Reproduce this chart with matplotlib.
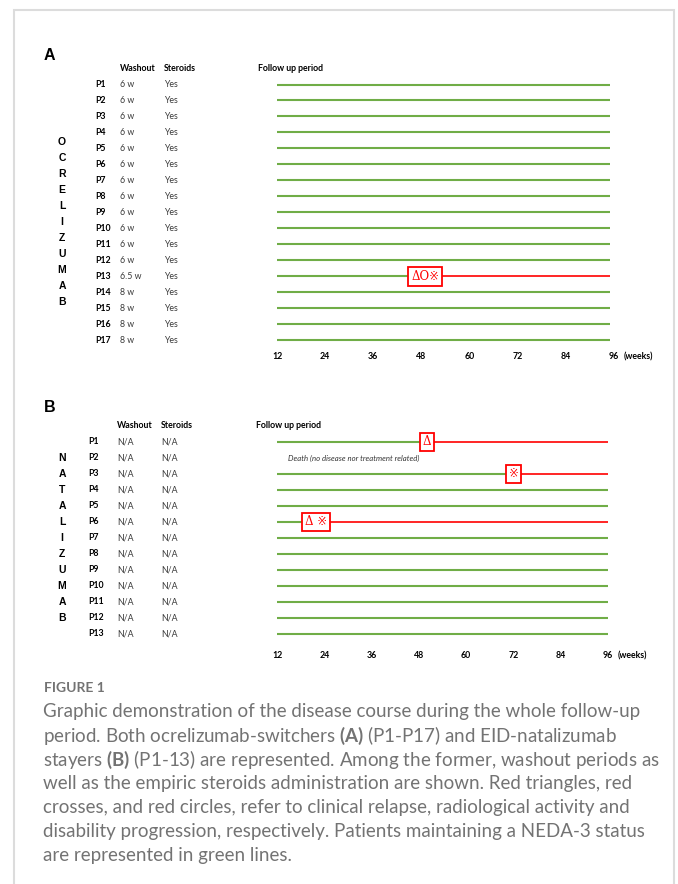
import matplotlib
matplotlib.use("Agg")
import matplotlib.pyplot as plt
from matplotlib.transforms import blended_transform_factory
from matplotlib.patches import Rectangle

plt.rcParams['mathtext.fontset'] = 'custom'
plt.rcParams['mathtext.rm'] = 'Lato'
plt.rcParams['mathtext.bf'] = 'Lato:bold'

# ---------------- data ----------------
weeks_ticks = [12, 24, 36, 48, 60, 72, 84, 96]
fu_start = 12
fu_end_A = 95
fu_end_B = 96

ocr_patients = ["P1", "P2", "P3", "P4", "P5", "P6", "P7", "P8", "P9", "P10",
                "P11", "P12", "P13", "P14", "P15", "P16", "P17"]
ocr_washout = ["6 w", "6 w", "6 w", "6 w", "6 w", "6 w", "6 w", "6 w", "6 w", "6 w",
               "6 w", "6 w", "6.5 w", "8 w", "8 w", "8 w", "8 w"]
ocr_steroids = ["Yes"] * 17
ocr_event_week = [None, None, None, None, None, None, None, None, None, None,
                  None, None, 49, None, None, None, None]
ocr_event_label = [None, None, None, None, None, None, None, None, None, None,
                   None, None, "\u0394O\u203b", None, None, None, None]

nat_patients = ["P1", "P2", "P3", "P4", "P5", "P6", "P7", "P8", "P9", "P10",
                "P11", "P12", "P13"]
nat_washout = ["N/A"] * 13
nat_steroids = ["N/A"] * 13
nat_event_week = [50, None, 72, None, None, 22, None, None, None, None, None, None, None]
nat_event_label = ["\u0394", None, "\u203b", None, None, "\u0394 \u203b", None, None,
                   None, None, None, None, None]
nat_deceased = [False, True, False, False, False, False, False, False, False, False,
                False, False, False]
death_note = "Death (no disease nor treatment related)"

ocr_word = "OCRELIZUMAB"
nat_word = "NATALIZUMAB"

GREEN = "#70AD47"
RED = "#FF0000"

W, H = 678, 884
fig = plt.figure(figsize=(W / 100, H / 100), dpi=100)

def fx(px):
    return px / W

def fy(py):
    return 1 - py / H

TABLE_FONT = "Lato"


def make_panel(left, right, top, bottom, row1_px, spacing, nrows):
    ax = fig.add_axes([fx(left), fy(bottom), fx(right - left), (bottom - top) / H])
    ax.set_xlim(12, 96)
    ytop = 1 - (row1_px - top) / spacing
    ybot = 1 + (bottom - row1_px) / spacing
    ax.set_ylim(ybot, ytop)
    for s in ax.spines.values():
        s.set_visible(False)
    ax.set_yticks([])
    ax.set_xticks(weeks_ticks)
    ax.set_xticklabels([str(t) for t in weeks_ticks], fontweight="bold",
                       fontsize=6.3, family=TABLE_FONT)
    ax.tick_params(axis="x", length=0, pad=1.5)
    ax.annotate("(weeks)", xy=(96, 0), xycoords=ax.get_xaxis_transform(),
                xytext=(7, -1.5), textcoords="offset points", ha="left", va="top",
                fontsize=6.3, fontweight="bold", family=TABLE_FONT)
    ax.patch.set_alpha(0)
    return ax


def draw_rows(ax, end_week, event_week, event_label, deceased=None):
    for i, (ew, lab) in enumerate(zip(event_week, event_label)):
        row = i + 1
        if deceased is not None and deceased[i]:
            continue
        if ew is None:
            ax.plot([fu_start, end_week], [row, row], color=GREEN, lw=1.5,
                    solid_capstyle="butt")
        else:
            ax.plot([fu_start, ew], [row, row], color=GREEN, lw=1.5,
                    solid_capstyle="butt")
            ax.plot([ew, end_week], [row, row], color=RED, lw=1.2,
                    solid_capstyle="butt")
            ax.text(ew, row, lab, ha="center", va="center", color=RED,
                    fontsize=8.5, family=["DejaVu Serif", "DejaVu Sans"],
                    bbox=dict(boxstyle="square,pad=0.25", fc="white", ec=RED, lw=1.3),
                    zorder=5)


def draw_table(ax, patients, washout, steroids, xp, xw, xs, xf, word, word_row0):
    tr = blended_transform_factory(fig.transFigure, ax.transData)
    kw = dict(transform=tr, va="center", ha="left", family=TABLE_FONT,
              fontsize=6.3, clip_on=False)
    ax.text(fx(xw), 0, "Washout", fontweight="bold", **kw)
    ax.text(fx(xs), 0, "Steroids", fontweight="bold", **kw)
    ax.text(fx(xf), 0, "Follow up period", fontweight="bold", **kw)
    for i, (p, w, s) in enumerate(zip(patients, washout, steroids)):
        row = i + 1
        ax.text(fx(xp), row, p, fontweight="bold", **kw)
        ax.text(fx(xw), row, w, color="#3a3a3a", **kw)
        ax.text(fx(xs), row, s, color="#3a3a3a", **kw)
    for j, ch in enumerate(word):
        ax.text(fx(62), word_row0 + j, ch, transform=tr, ha="center", va="center",
                fontsize=7.5, fontweight="bold", family="Liberation Sans",
                clip_on=False)


# Panel A
axA = make_panel(277, 614, 60, 350, 84.5, 16.0, 17)
draw_rows(axA, fu_end_A, ocr_event_week, ocr_event_label)
draw_table(axA, ocr_patients, ocr_washout, ocr_steroids, 95, 120, 164, 258,
           ocr_word, 4.6)

# Panel B
axB = make_panel(277, 608, 420, 649, 442, 16.0, 13)
draw_rows(axB, fu_end_B, nat_event_week, nat_event_label, nat_deceased)
draw_table(axB, nat_patients, nat_washout, nat_steroids, 88, 117, 161, 256,
           nat_word, 2)
for i, d in enumerate(nat_deceased):
    if d:
        axB.text(14.8, i + 1, death_note, ha="left", va="center", fontsize=5.6,
                 style="italic", color="#333333", family=TABLE_FONT)

# Panel letters
fig.text(fx(44), fy(55), "A", fontsize=11.5, fontweight="bold",
         family="Liberation Sans", ha="left", va="center")
fig.text(fx(44), fy(408), "B", fontsize=11.5, fontweight="bold",
         family="Liberation Sans", ha="left", va="center")

# Frame
fig.patches.append(Rectangle((fx(14), fy(1000)), fx(674 - 14), (1000 - 10) / H,
                             transform=fig.transFigure, fill=False,
                             ec="#dcdcdc", lw=1.5))

# Caption
CAP = "#737373"
fig.text(fx(44), fy(688), "FIGURE 1", fontsize=10, fontweight="bold",
         color="#737373", family="Lato", ha="left", va="center")
caption_lines = [
    "Graphic demonstration of the disease course during the whole follow-up",
    r"period. Both ocrelizumab-switchers $\mathbf{(A)}$ (P1-P17) and EID-natalizumab",
    r"stayers $\mathbf{(B)}$ (P1-13) are represented. Among the former, washout periods as",
    "well as the empiric steroids administration are shown. Red triangles, red",
    "crosses, and red circles, refer to clinical relapse, radiological activity and",
    "disability progression, respectively. Patients maintaining a NEDA-3 status",
    "are represented in green lines.",
]
for k, line in enumerate(caption_lines):
    fig.text(fx(43), fy(712 + 24 * k), line, fontsize=13.5, color=CAP,
             family="Lato", fontweight="normal", ha="left", va="center")

fig.savefig("out.png", dpi=100)
